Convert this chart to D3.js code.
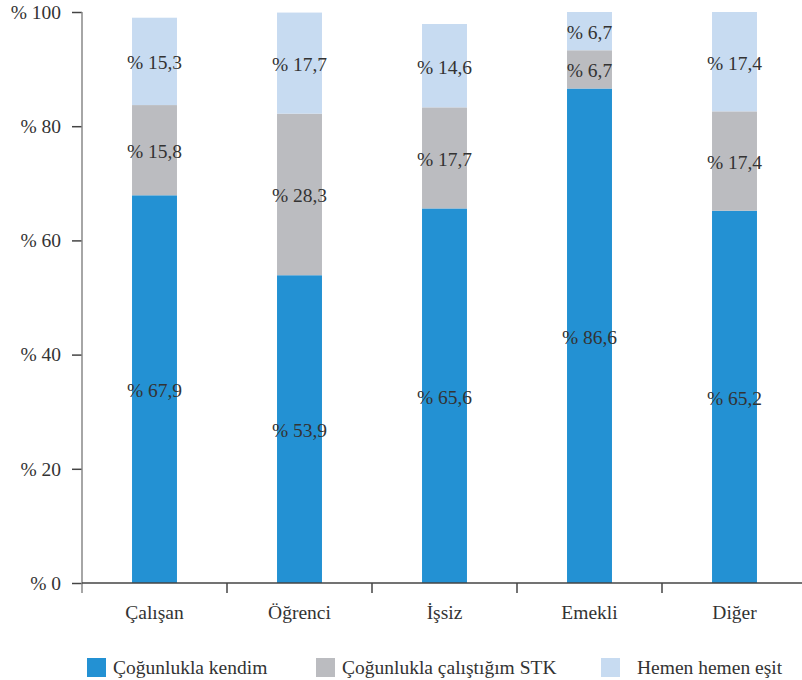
<!DOCTYPE html>
<html><head><meta charset="utf-8">
<script src="https://cdn.jsdelivr.net/npm/d3@7"></script>
<style>body{margin:0;background:#fff}svg{display:block}
svg text{font-family:"Liberation Serif","Times New Roman","DejaVu Serif",serif;}</style>
</head><body>
<svg id="c" width="802" height="680"></svg>
<script>
const categories = ["Çalışan","Öğrenci","İşsiz","Emekli","Diğer"];
const seriesNames = ["Çoğunlukla kendim","Çoğunlukla çalıştığım STK","Hemen hemen eşit"];
const kendim = [67.9, 53.9, 65.6, 86.6, 65.2];
const stk = [15.8, 28.3, 17.7, 6.7, 17.4];
const esit = [15.3, 17.7, 14.6, 6.7, 17.4];
const yTicks = [0,20,40,60,80,100];
const colors = ["#2391d3","#bbbcc0","#c7dbf1"];

(function(){
const rows = categories.map((c,i)=>({cat:c, s0:kendim[i], s1:stk[i], s2:esit[i]}));
const stack = d3.stack().keys(["s0","s1","s2"])(rows);

const svg = d3.select("#c");
const fs = 19.5;
const mLeft = 82, mRight = 807, mTop = 12, mBottom = 583;
const x = d3.scaleBand().domain(categories).range([mLeft,mRight]).paddingInner(0.69).paddingOuter(0.345);
const y = d3.scaleLinear().domain([0,100]).range([mBottom,mTop]);
const axisColor = "#444";

stack.forEach((s,k)=>{
  svg.append("g").selectAll("rect").data(s).join("rect")
    .attr("x", d=>x(d.data.cat)).attr("width", x.bandwidth())
    .attr("y", d=>y(d[1])).attr("height", d=>y(d[0])-y(d[1]))
    .attr("fill", colors[k]);
  svg.append("g").selectAll("text").data(s).join("text")
    .attr("x", d=>x(d.data.cat)+x.bandwidth()/2)
    .attr("y", d=>(y(d[0])+y(d[1]))/2+8)
    .attr("text-anchor","middle")
    .attr("font-size",fs).attr("fill","#333")
    .text(d=>"% "+d3.format(".1f")(d[1]-d[0]).replace(".",","));
});

const yAxis = svg.append("g").attr("transform",`translate(${mLeft},0)`)
  .call(d3.axisLeft(y).tickValues(yTicks).tickSize(10).tickPadding(11).tickFormat(d=>"% "+d).tickSizeOuter(0));
yAxis.attr("font-family",null);
yAxis.select(".domain").remove();
yAxis.selectAll(".tick line").attr("stroke",axisColor).attr("stroke-width",1.5);
yAxis.selectAll(".tick text").attr("font-size",fs).attr("fill","#333");
svg.append("line").attr("x1",mLeft).attr("x2",mLeft).attr("y1",mTop).attr("y2",mBottom+10)
  .attr("stroke","#888").attr("stroke-width",1.5);

const bounds = categories.map(c=>x(c)-x.step()*x.paddingInner()/2).slice(1);
svg.append("line").attr("x1",mLeft).attr("x2",802).attr("y1",mBottom).attr("y2",mBottom)
  .attr("stroke",axisColor).attr("stroke-width",1.5);
svg.append("g").selectAll("line").data(bounds).join("line")
  .attr("x1",d=>d).attr("x2",d=>d).attr("y1",mBottom).attr("y2",mBottom+10)
  .attr("stroke",axisColor).attr("stroke-width",1.5);
svg.append("g").selectAll("text").data(categories).join("text")
  .attr("x",d=>x(d)+x.bandwidth()/2).attr("y",619)
  .attr("text-anchor","middle").attr("font-size",fs).attr("fill","#333")
  .text(d=>d);

const legX = [87, 316, 601];
const lg = svg.append("g").selectAll("g").data(seriesNames).join("g")
  .attr("transform",(d,i)=>`translate(${legX[i]},658)`);
lg.append("rect").attr("width",19).attr("height",19).attr("fill",(d,i)=>colors[i]);
lg.append("text").attr("x",(d,i)=>i===2?36:26).attr("y",16)
  .attr("font-size",fs).attr("fill","#333").text(d=>d);
})();
</script>
</body></html>
